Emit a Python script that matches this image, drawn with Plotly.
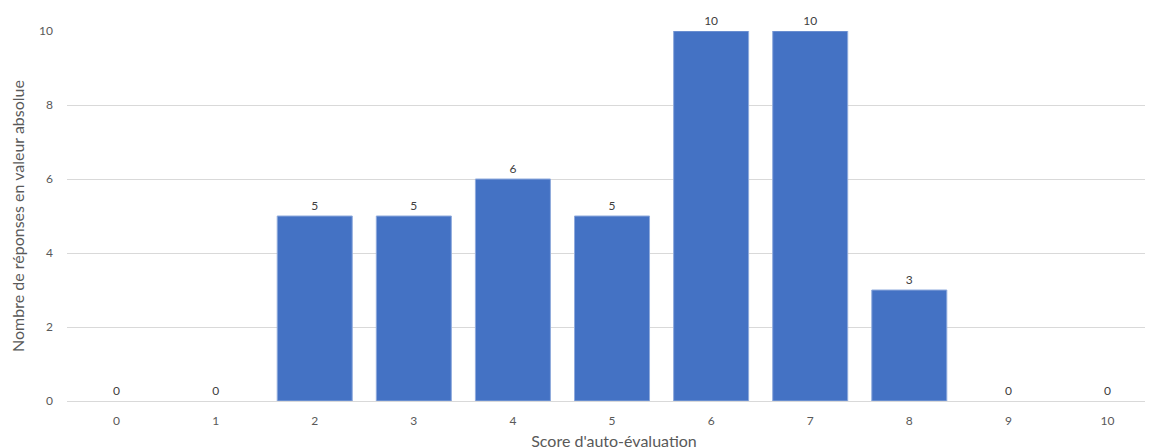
import plotly.graph_objects as go

scores = ["0", "1", "2", "3", "4", "5", "6", "7", "8", "9", "10"]
counts = [0, 0, 5, 5, 6, 5, 10, 10, 3, 0, 0]
x_title = "Score d'auto-évaluation"
y_title = "Nombre de réponses en valeur absolue"
y_ticks = [0, 2, 4, 6, 8, 10]

font_family = "Lato, 'Open Sans', sans-serif"
gray = "#595959"

fig = go.Figure(go.Bar(
    x=scores, y=counts,
    marker=dict(color="#4472C4",
                line=dict(color="#8FAADC", width=[0 if v == 0 else 1 for v in counts])),
    width=0.757,
    text=counts, textposition="outside", cliponaxis=False,
    textfont=dict(family=font_family, size=12, color="#404040"),
))
fig.update_layout(
    width=1153, height=448,
    margin=dict(l=59, r=0, t=23, b=55),
    plot_bgcolor="white", paper_bgcolor="white",
    showlegend=False,
    font=dict(family=font_family, color=gray),
)
fig.update_xaxes(
    type="category", range=[-0.5, 10.54],
    showline=True, linecolor="#d9d9d9", linewidth=1,
    tickfont=dict(size=12, color=gray), ticks="", ticklabelstandoff=9,
    title=dict(text=x_title, font=dict(size=16, color=gray), standoff=8),
)
fig.update_yaxes(
    range=[0, 10], tickvals=y_ticks,
    showgrid=True, gridcolor="#d9d9d9", gridwidth=1, zeroline=False,
    tickfont=dict(size=12, color=gray), ticklabelstandoff=13,
    title=dict(text=y_title, font=dict(size=16, color=gray), standoff=14),
)
fig.write_html("out.html")
